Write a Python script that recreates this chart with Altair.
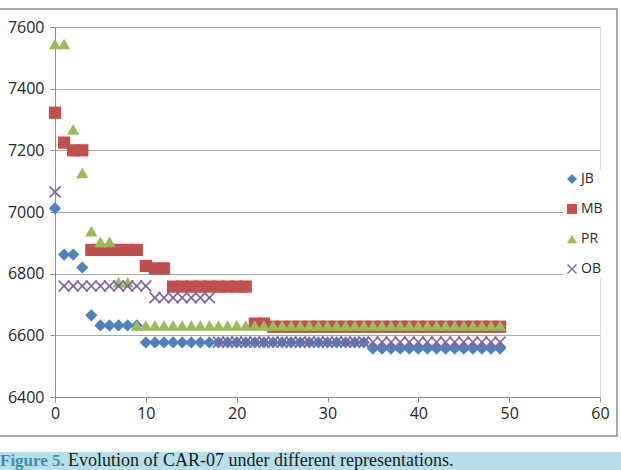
import altair as alt
import pandas as pd

series_names = ["JB", "MB", "PR", "OB"]
iterations = list(range(50))

jb = [7012, 6862, 6862, 6820, 6665, 6632, 6632, 6632, 6632, 6632,
      6577, 6577, 6577, 6577, 6577, 6577, 6577, 6577, 6577, 6577,
      6577, 6577, 6577, 6577, 6577, 6577, 6577, 6577, 6577, 6577,
      6577, 6577, 6577, 6577, 6577, 6557, 6557, 6557, 6557, 6557,
      6557, 6557, 6557, 6557, 6557, 6557, 6557, 6557, 6557, 6557]
mb = [7322, 7225, 7200, 7200, 6877, 6877, 6877, 6877, 6877, 6877,
      6825, 6817, 6817, 6758, 6758, 6758, 6758, 6758, 6758, 6758,
      6758, 6758, 6638, 6638, 6628, 6628, 6628, 6628, 6628, 6628,
      6628, 6628, 6628, 6628, 6628, 6628, 6628, 6628, 6628, 6628,
      6628, 6628, 6628, 6628, 6628, 6628, 6628, 6628, 6628, 6628]
pr = [7545, 7545, 7268, 7127, 6938, 6903, 6903, 6772, 6772, 6632,
      6632, 6632, 6632, 6632, 6632, 6632, 6632, 6632, 6632, 6632,
      6632, 6632, 6632, 6632, 6632, 6632, 6632, 6632, 6632, 6632,
      6632, 6632, 6632, 6632, 6632, 6632, 6632, 6632, 6632, 6632,
      6632, 6632, 6632, 6632, 6632, 6632, 6632, 6632, 6632, 6632]
ob = [7065, 6760, 6760, 6760, 6760, 6760, 6760, 6760, 6760, 6760,
      6760, 6722, 6722, 6722, 6722, 6722, 6722, 6722, 6578, 6578,
      6578, 6578, 6578, 6578, 6578, 6578, 6578, 6578, 6578, 6578,
      6578, 6578, 6578, 6578, 6578, 6578, 6578, 6578, 6578, 6578,
      6578, 6578, 6578, 6578, 6578, 6578, 6578, 6578, 6578, 6578]

x_ticks = [0, 10, 20, 30, 40, 50, 60]
y_ticks = [6400, 6600, 6800, 7000, 7200, 7400, 7600]
series_colors = ["#4f81bd", "#c0504d", "#9bbb59", "#8064a2"]
x_path = "M-1,-0.8L-0.8,-1L0,-0.2L0.8,-1L1,-0.8L0.2,0L1,0.8L0.8,1L0,0.2L-0.8,1L-1,0.8L-0.2,0Z"
series_shapes = ["diamond", "square", "triangle-up", x_path]

rows = []
for name, vals in zip(series_names, [jb, mb, pr, ob]):
    for i, v in zip(iterations, vals):
        rows.append({"iter": i, "value": v, "series": name})
df = pd.DataFrame(rows)

FONT = "Open Sans"
LABEL = "#262626"

legend_opts = dict(title=None, orient="none", legendX=508, legendY=143,
                   symbolSize=100, labelFontSize=14, labelFont=FONT,
                   labelColor=LABEL, rowPadding=16, padding=2,
                   fillColor="white", labelOffset=2, symbolStrokeWidth=0)

points = alt.Chart(df).mark_point(filled=True, size=150, opacity=1, strokeWidth=0).encode(
    x=alt.X("iter:Q", scale=alt.Scale(domain=[0, 60], nice=False),
            axis=alt.Axis(values=x_ticks, title=None, grid=False, domainColor="#8c8c8c",
                          tickColor="#8c8c8c", tickSize=5, labelFontSize=16, labelFont=FONT,
                          labelColor=LABEL, labelPadding=3, format="d", labelFlush=False)),
    y=alt.Y("value:Q", scale=alt.Scale(domain=[6400, 7600], nice=False, zero=False),
            axis=alt.Axis(values=y_ticks, title=None, grid=True, gridColor="#a6a6a6",
                          domainColor="#8c8c8c", tickColor="#8c8c8c", tickSize=5,
                          labelFontSize=16, labelFont=FONT, labelColor=LABEL,
                          labelPadding=6, format="d", labelFlush=False)),
    color=alt.Color("series:N", scale=alt.Scale(domain=series_names, range=series_colors),
                    legend=alt.Legend(**legend_opts)),
    shape=alt.Shape("series:N", scale=alt.Scale(domain=series_names, range=series_shapes),
                    legend=alt.Legend(**legend_opts)),
)

one = alt.Data(values=[{}])

border = alt.Chart(one).mark_rect(fill=None, stroke="#8c8c8c", strokeWidth=1.5).encode(
    x=alt.value(-57), x2=alt.value(562), y=alt.value(-18), y2=alt.value(409)
)
band = alt.Chart(one).mark_rect(fill="#b7dfea").encode(
    x=alt.value(-56), x2=alt.value(567), y=alt.value(425), y2=alt.value(444)
)
cap1 = alt.Chart(one).mark_text(text="Figure 5.", font="Liberation Serif", fontSize=17,
                                fontWeight="bold", color="#3b8dab", align="left",
                                baseline="alphabetic").encode(
    x=alt.value(-55), y=alt.value(439)
)
cap2 = alt.Chart(one).mark_text(text="Evolution of CAR-07 under different representations.",
                                font="Liberation Serif", fontSize=18, color="#1a1a1a",
                                align="left", baseline="alphabetic").encode(
    x=alt.value(13), y=alt.value(439)
)

chart = alt.layer(border, band, points, cap1, cap2).properties(
    width=545, height=370,
    autosize=alt.AutoSizeParams(type="none"),
    padding={"left": 55, "top": 27, "right": 21, "bottom": 73},
).configure_view(strokeWidth=0).configure(background="white")

chart.save("out.html", embed_options={"renderer": "svg", "actions": False})
